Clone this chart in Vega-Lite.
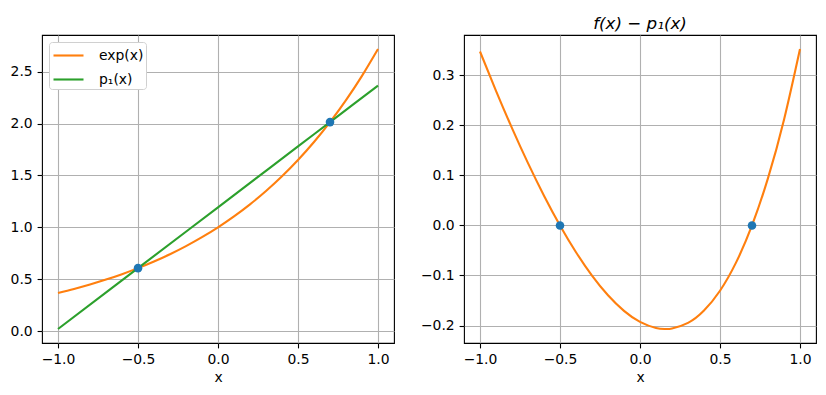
{
  "$schema": "https://vega.github.io/schema/vega-lite/v6.json",
  "padding": {"left": 9, "top": 15, "right": 9, "bottom": 8},
  "background": "white",
  "spacing": 70,
  "bounds": "flush",
  "config": {
    "font": "DejaVu Sans",
    "view": {"stroke": "black", "strokeWidth": 1.1},
    "axis": {
      "labelFont": "DejaVu Sans", "labelFontSize": 13.9, "labelColor": "black",
      "tickColor": "black", "tickSize": 4.9, "tickWidth": 1.1, "labelPadding": 4.9,
      "domain": false, "grid": true, "gridColor": "#b0b0b0", "gridWidth": 1.1, "gridOpacity": 1,
      "titleFont": "DejaVu Sans", "titleFontSize": 13.9, "titleFontWeight": "normal", "titleColor": "black",
      "titlePadding": 4, "labelFlush": false, "labelOverlap": false
    },
    "legend": {
      "labelFont": "DejaVu Sans", "labelFontSize": 13.9, "labelColor": "black"
    }
  },
  "datasets": {
    "left": [
      {"series": "exp(x)", "x": -1.0, "y": 0.367879},
      {"series": "exp(x)", "x": -0.9, "y": 0.406570},
      {"series": "exp(x)", "x": -0.8, "y": 0.449329},
      {"series": "exp(x)", "x": -0.7, "y": 0.496585},
      {"series": "exp(x)", "x": -0.6, "y": 0.548812},
      {"series": "exp(x)", "x": -0.5, "y": 0.606531},
      {"series": "exp(x)", "x": -0.4, "y": 0.670320},
      {"series": "exp(x)", "x": -0.3, "y": 0.740818},
      {"series": "exp(x)", "x": -0.2, "y": 0.818731},
      {"series": "exp(x)", "x": -0.1, "y": 0.904837},
      {"series": "exp(x)", "x": 0.0, "y": 1.0},
      {"series": "exp(x)", "x": 0.1, "y": 1.105171},
      {"series": "exp(x)", "x": 0.2, "y": 1.221403},
      {"series": "exp(x)", "x": 0.3, "y": 1.349859},
      {"series": "exp(x)", "x": 0.4, "y": 1.491825},
      {"series": "exp(x)", "x": 0.5, "y": 1.648721},
      {"series": "exp(x)", "x": 0.6, "y": 1.822119},
      {"series": "exp(x)", "x": 0.7, "y": 2.013753},
      {"series": "exp(x)", "x": 0.8, "y": 2.225541},
      {"series": "exp(x)", "x": 0.9, "y": 2.459603},
      {"series": "exp(x)", "x": 1.0, "y": 2.718282},
      {"series": "p₁(x)", "x": -1.0, "y": 0.020188},
      {"series": "p₁(x)", "x": -0.5, "y": 0.606531},
      {"series": "p₁(x)", "x": 0.0, "y": 1.192873},
      {"series": "p₁(x)", "x": 0.5, "y": 1.779216},
      {"series": "p₁(x)", "x": 0.7, "y": 2.013753},
      {"series": "p₁(x)", "x": 1.0, "y": 2.365558}
    ],
    "right": [
      {"x": -1.0, "d": 0.347691},
      {"x": -0.9, "d": 0.269113},
      {"x": -0.8, "d": 0.194604},
      {"x": -0.7, "d": 0.124591},
      {"x": -0.6, "d": 0.059550},
      {"x": -0.5, "d": 0.0},
      {"x": -0.4, "d": -0.053479},
      {"x": -0.3, "d": -0.100250},
      {"x": -0.2, "d": -0.139605},
      {"x": -0.1, "d": -0.170768},
      {"x": 0.0, "d": -0.192873},
      {"x": 0.1, "d": -0.204971},
      {"x": 0.159, "d": -0.206985},
      {"x": 0.2, "d": -0.206007},
      {"x": 0.3, "d": -0.194820},
      {"x": 0.4, "d": -0.170122},
      {"x": 0.5, "d": -0.130495},
      {"x": 0.6, "d": -0.074365},
      {"x": 0.7, "d": 0.0},
      {"x": 0.8, "d": 0.094520},
      {"x": 0.9, "d": 0.211313},
      {"x": 1.0, "d": 0.352724}
    ],
    "nodes": [
      {"x": -0.5, "y": 0.606531, "d": 0},
      {"x": 0.7, "y": 2.013753, "d": 0}
    ]
  },
  "hconcat": [
    {
      "width": 352,
      "height": 308,
      "layer": [
        {
          "data": {"name": "left"},
          "mark": {"type": "line", "interpolate": "monotone", "strokeWidth": 2.1, "clip": true},
          "encoding": {
            "x": {"field": "x", "type": "quantitative",
                  "scale": {"domain": [-1.1, 1.1], "nice": false, "zero": false},
                  "axis": {"title": "x", "values": [-1, -0.5, 0, 0.5, 1], "format": ".1f"}},
            "y": {"field": "y", "type": "quantitative",
                  "scale": {"domain": [-0.1147, 2.853], "nice": false, "zero": false},
                  "axis": {"title": null, "values": [0, 0.5, 1, 1.5, 2, 2.5], "format": ".1f"}},
            "color": {"field": "series", "type": "nominal",
                      "scale": {"domain": ["exp(x)", "p₁(x)"], "range": ["#ff7f0e", "#2ca02c"]},
                      "legend": {"title": null, "orient": "top-left", "offset": 7,
                                 "symbolType": "M-1.5,0H1.5", "symbolSize": 400, "symbolStrokeWidth": 2.1,
                                 "symbolOffset": 6,
                                 "strokeColor": "#d0d0d0", "fillColor": "white", "cornerRadius": 3,
                                 "padding": 2, "rowPadding": 5, "labelOffset": 19}},
            "order": {"field": "x", "type": "quantitative"}
          }
        },
        {
          "data": {"name": "nodes"},
          "mark": {"type": "point", "filled": true, "size": 74, "color": "#1f77b4", "opacity": 1},
          "encoding": {
            "x": {"field": "x", "type": "quantitative"},
            "y": {"field": "y", "type": "quantitative"}
          }
        }
      ]
    },
    {
      "width": 352,
      "height": 308,
      "title": {"text": "f(x) − p₁(x)", "fontStyle": "italic", "font": "DejaVu Sans", "fontSize": 16.7, "fontWeight": "normal", "color": "black", "offset": 2},
      "layer": [
        {
          "data": {"name": "right"},
          "mark": {"type": "line", "interpolate": "natural", "strokeWidth": 2.1, "color": "#ff7f0e", "clip": true},
          "encoding": {
            "x": {"field": "x", "type": "quantitative",
                  "scale": {"domain": [-1.1, 1.1], "nice": false, "zero": false},
                  "axis": {"title": "x", "values": [-1, -0.5, 0, 0.5, 1], "format": ".1f"}},
            "y": {"field": "d", "type": "quantitative",
                  "scale": {"domain": [-0.23497, 0.38071], "nice": false, "zero": false},
                  "axis": {"title": null, "values": [-0.2, -0.1, 0, 0.1, 0.2, 0.3], "format": ".1f"}},
            "order": {"field": "x", "type": "quantitative"}
          }
        },
        {
          "data": {"name": "nodes"},
          "mark": {"type": "point", "filled": true, "size": 74, "color": "#1f77b4", "opacity": 1},
          "encoding": {
            "x": {"field": "x", "type": "quantitative"},
            "y": {"field": "d", "type": "quantitative"}
          }
        }
      ]
    }
  ]
}
